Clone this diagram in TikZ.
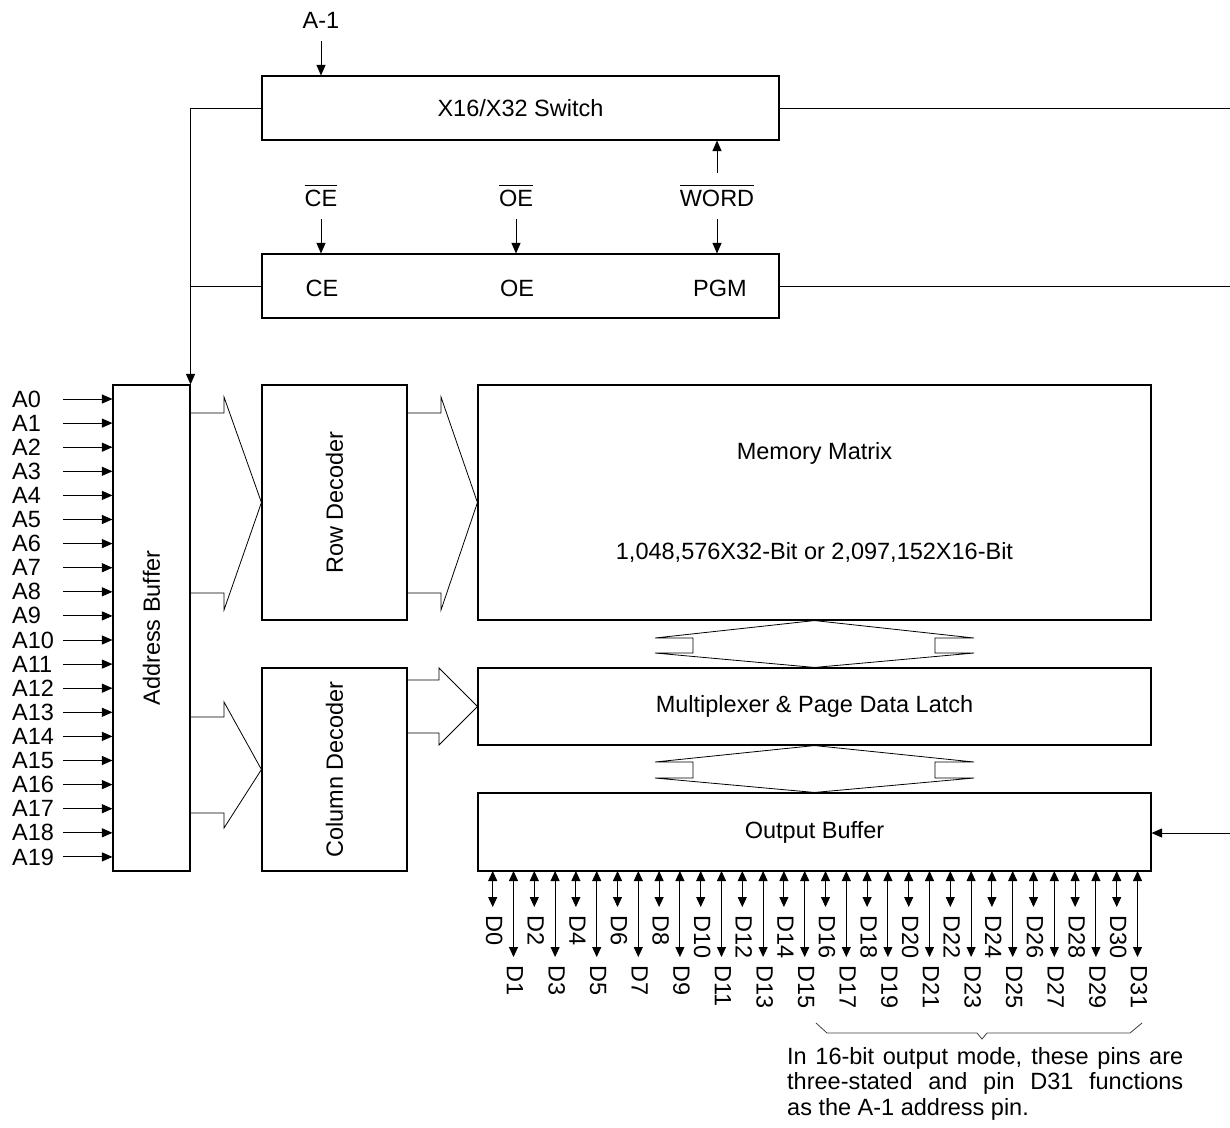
\documentclass[tikz,border=0pt]{standalone}
\usepackage{fontspec}
\setmainfont{Liberation Sans}
\usetikzlibrary{arrows.meta,calc}
\newcommand\dfs{\fontsize{23.5}{25.5}\selectfont}
\newcommand\barred[1]{$\overline{\mbox{\rule{0pt}{19.5pt}#1}}$}
\begin{document}
\begin{tikzpicture}[x=1pt,y=-1pt,
 blk/.style={draw, line width=1.1pt, inner sep=0pt},
 txt/.style={font=\dfs, inner sep=0pt},
 sig/.style={line width=0.9pt, -{Triangle[length=10.5pt,width=9pt]}},
 dsig/.style={line width=0.9pt, {Triangle[length=10pt,width=9pt]}-{Triangle[length=10pt,width=9pt]}},
 wire/.style={line width=0.9pt},
 bus/.style={line width=0.8pt, line join=miter},
 brc/.style={line width=0.8pt, black!75},
]
\useasboundingbox (0,0) rectangle (1230,1127);

% blocks
\node[blk, minimum width=517pt, minimum height=64pt] (sw) at (520.5,108) {};
\node[txt] at (sw.center) {X16/X32 Switch};
\node[blk, minimum width=517pt, minimum height=64pt] (ctl) at (520.5,286) {};
\node[blk, minimum width=77pt, minimum height=486pt] (ab) at (151.5,628) {};
\node[txt, rotate=90] at (ab.center) {Address Buffer};
\node[blk, minimum width=145pt, minimum height=235pt] (rd) at (334.5,502.5) {};
\node[txt, rotate=90] at (rd.center) {Row Decoder};
\node[blk, minimum width=145pt, minimum height=203pt] (cd) at (334.5,769.5) {};
\node[txt, rotate=90] at (cd.center) {Column Decoder};
\node[blk, minimum width=673pt, minimum height=235pt] (mm) at (814.5,502.5) {};
\node[txt] at (814.5,453) {Memory Matrix};
\node[txt] at (814.5,552) {1,048,576X32-Bit or 2,097,152X16-Bit};
\node[blk, minimum width=673pt, minimum height=77pt] (mx) at (814.5,706.5) {};
\node[txt] at (mx.center) {Multiplexer \& Page Data Latch};
\node[blk, minimum width=673pt, minimum height=78pt] (ob) at (814.5,832) {};
\node[txt] at (mx.center |- 0,832) {Output Buffer};

% control box labels
\node[txt] (cein) at (322,288) {CE};
\node[txt] (oein) at (517,288) {OE};
\node[txt] (pgm) at (720,288) {PGM};

% top signals
\node[txt] (am1) at (321,20) {A-1};
\coordinate (am1s) at (321,41);
\draw[sig] (am1s) -- (am1s |- sw.north);
\node[txt, anchor=base] (ceb) at (321,206.5) {\barred{CE}};
\node[txt, anchor=base] (oeb) at (516,206.5) {\barred{OE}};
\node[txt, anchor=base] (wdb) at (717,206.5) {\barred{WORD}};
\coordinate (ces) at (321,219);
\coordinate (oes) at (516,219);
\coordinate (wds) at (717,219);
\coordinate (wdu) at (717,173);
\draw[sig] (ces) -- (ces |- ctl.north);
\draw[sig] (oes) -- (oes |- ctl.north);
\draw[sig] (wds) -- (wds |- ctl.north);
\draw[sig] (wdu) -- (wdu |- sw.south);

% wires
\draw[sig] (sw.west) -| (ab.north east);
\draw[wire] (ctl.west) -- (ctl.west -| ab.east);
\coordinate (r1) at (1230,108);
\coordinate (r2) at (1230,286);
\coordinate (r3) at (1230,833);
\draw[wire] (sw.east) -- (r1);
\draw[wire] (ctl.east) -- (r2);
\draw[sig] (r3) -- (r3 -| ob.east);

% address inputs
\foreach \i in {0,...,19}{
  \pgfmathsetmacro\yy{399+24.1*\i}
  \node[txt, anchor=west] (a\i) at (12,\yy) {A\i};
  \coordinate (as\i) at (63,\yy);
  \draw[sig] (as\i) -- (as\i -| ab.west);
}

% bus arrows
\draw[bus] (190,413) -- (224,413) -- (224,397) -- (rd.west) -- (224,610) -- (224,593) -- (190,593);
\draw[bus] (407,413) -- (441,413) -- (441,397) -- (mm.west) -- (441,610) -- (441,593) -- (407,593);
\draw[bus] (190,717) -- (224,717) -- (224,702) -- (cd.west) -- (224,828) -- (224,813) -- (190,813);
\draw[bus] (407,680) -- (439,680) -- (439,668) -- (mx.west) -- (439,745) -- (439,733) -- (407,733);

% double bus arrows
\draw[bus] (mm.south) -- (974,638) -- (935,638) -- (935,653) -- (974,653) -- (mx.north)
  -- (655,653) -- (693,653) -- (693,638) -- (655,638) -- cycle;
\draw[bus] (mx.south) -- (974,762) -- (935,762) -- (935,778) -- (974,778) -- (ob.north)
  -- (655,778) -- (693,778) -- (693,762) -- (655,762) -- cycle;

% data pins
\foreach \i in {0,...,31}{
  \pgfmathsetmacro\xx{492.7+20.8*\i}
  \pgfmathtruncatemacro\odd{mod(\i,2)}
  \coordinate (dt\i) at (\xx,871);
  \ifnum\odd=0
    \coordinate (de\i) at (\xx,907);
    \node[txt, rotate=-90, anchor=west] (d\i) at (\xx+1.5,915) {D\i};
  \else
    \coordinate (de\i) at (\xx,957);
    \node[txt, rotate=-90, anchor=west] (d\i) at (\xx+1.5,965) {D\i};
  \fi
  \draw[dsig] (dt\i) -- (de\i);
}

% brace and note
\draw[brc] (816,1023) -- (827,1033) -- (977,1033) -- (982,1039) -- (987,1033) -- (1130,1033) -- (1142,1023);
\node[txt, anchor=north west, text width=396pt, align=justify] (note) at (787,1047)
 {In 16-bit output mode, these pins are\linebreak three-stated and pin D31 functions\linebreak as the A-1 address pin.};
\end{tikzpicture}
\end{document}
